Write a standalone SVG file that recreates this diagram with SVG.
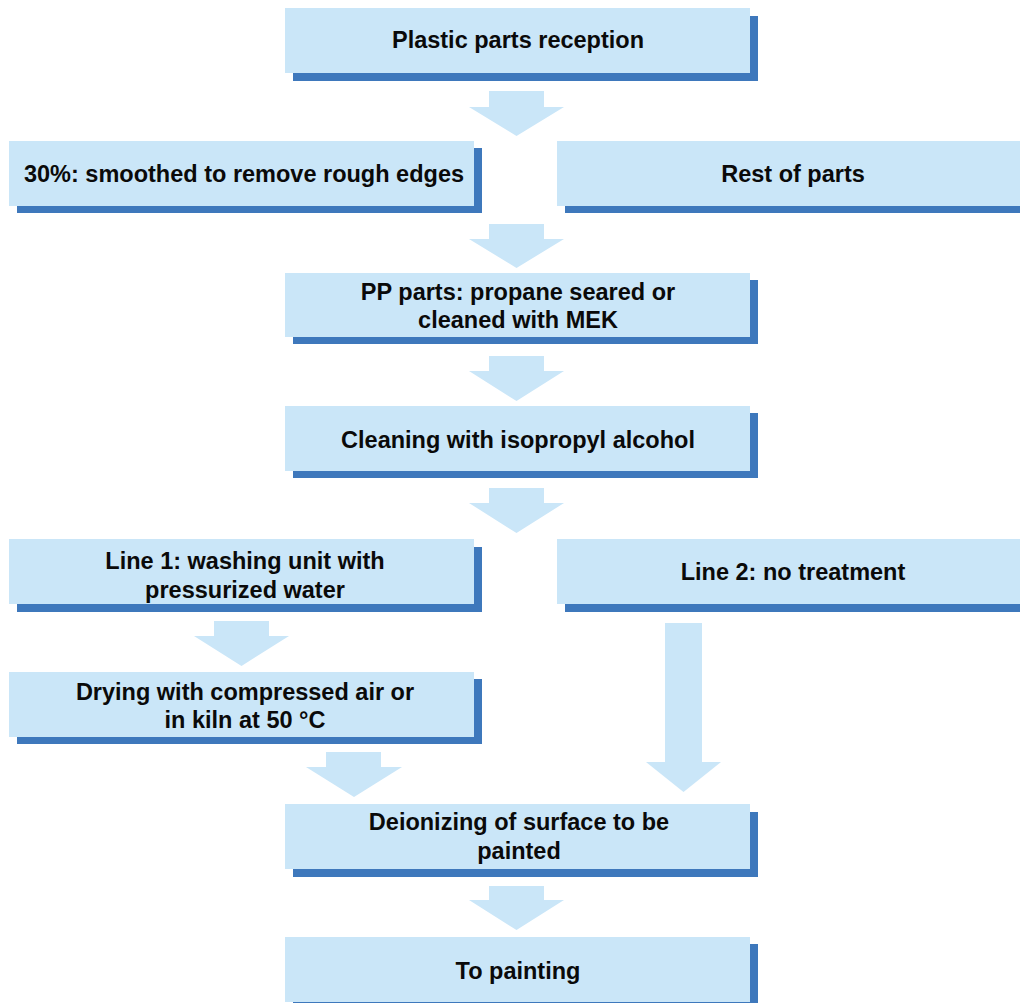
<svg xmlns="http://www.w3.org/2000/svg" width="1020" height="1003" viewBox="0 0 1020 1003">
  <defs>
    <style>
      .box { fill: #CAE6F8; }
      .shadow { fill: #3E78BC; }
      .arrow { fill: #CAE6F8; }
      .label { font-family: "Liberation Sans", Arial, Helvetica, sans-serif; font-weight: bold; font-size: 23.5px; fill: #0a0a0a; text-anchor: middle; }
    </style>
  </defs>
  <rect width="1020" height="1003" fill="#ffffff"/>

  <!-- block arrows between the steps -->
  <g id="connectors">
    <polygon class="arrow" points="489,91 544,91 544,107 564,107 516.5,136 469,107 489,107"/>
    <polygon class="arrow" points="489,224 544,224 544,239 564,239 516.5,268 469,239 489,239"/>
    <polygon class="arrow" points="489,356 544,356 544,371 564,371 516.5,401 469,371 489,371"/>
    <polygon class="arrow" points="489,488 544,488 544,503 564,503 516.5,533 469,503 489,503"/>
    <polygon class="arrow" points="214,621 269,621 269,636 289,636 241.5,666 194,636 214,636"/>
    <polygon class="arrow" points="326,752 381,752 381,767 402,767 354,797 306,767 326,767"/>
    <polygon class="arrow" points="665,623 702,623 702,762 721,762 683.5,792 646,762 665,762"/>
    <polygon class="arrow" points="489,886 544,886 544,900 564,900 516.5,930 469,900 489,900"/>
  </g>

  <g id="reception">
    <rect class="shadow" x="293" y="16" width="465" height="65"/>
    <rect class="box" x="285" y="8" width="465" height="65"/>
    <text class="label" x="518" y="48">Plastic parts reception</text>
  </g>

  <g id="smoothed">
    <rect class="shadow" x="17" y="148" width="465" height="65"/>
    <rect class="box" x="9" y="141" width="465" height="65"/>
    <text class="label" x="244" y="182">30%: smoothed to remove rough edges</text>
  </g>

  <g id="rest">
    <rect class="shadow" x="565" y="148" width="470" height="65"/>
    <rect class="box" x="557" y="141" width="470" height="65"/>
    <text class="label" x="793" y="182">Rest of parts</text>
  </g>

  <g id="pp-parts">
    <rect class="shadow" x="293" y="280" width="465" height="64"/>
    <rect class="box" x="285" y="273" width="465" height="64"/>
    <text class="label" x="518" y="300">PP parts: propane seared or</text>
    <text class="label" x="518" y="328">cleaned with MEK</text>
  </g>

  <g id="isopropyl">
    <rect class="shadow" x="293" y="413" width="465" height="65"/>
    <rect class="box" x="285" y="406" width="465" height="65"/>
    <text class="label" x="518" y="448">Cleaning with isopropyl alcohol</text>
  </g>

  <g id="line1">
    <rect class="shadow" x="17" y="547" width="465" height="65"/>
    <rect class="box" x="9" y="539" width="465" height="65"/>
    <text class="label" x="245" y="569">Line 1: washing unit with</text>
    <text class="label" x="245" y="598">pressurized water</text>
  </g>

  <g id="line2">
    <rect class="shadow" x="565" y="547" width="470" height="65"/>
    <rect class="box" x="557" y="539" width="470" height="65"/>
    <text class="label" x="793" y="580">Line 2: no treatment</text>
  </g>

  <g id="drying">
    <rect class="shadow" x="17" y="679" width="465" height="65"/>
    <rect class="box" x="9" y="672" width="465" height="65"/>
    <text class="label" x="245" y="700">Drying with compressed air or</text>
    <text class="label" x="245" y="728">in kiln at 50 °C</text>
  </g>

  <g id="deionizing">
    <rect class="shadow" x="293" y="812" width="465" height="65"/>
    <rect class="box" x="285" y="804" width="465" height="65"/>
    <text class="label" x="519" y="830">Deionizing of surface to be</text>
    <text class="label" x="519" y="859">painted</text>
  </g>

  <g id="painting">
    <rect class="shadow" x="293" y="944" width="465" height="65"/>
    <rect class="box" x="285" y="937" width="465" height="65"/>
    <text class="label" x="518" y="979">To painting</text>
  </g>
</svg>
